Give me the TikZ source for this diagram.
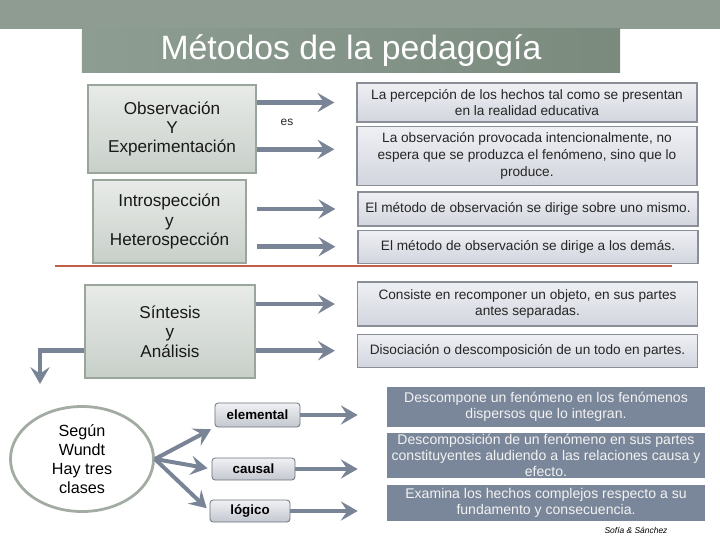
\documentclass[tikz,border=0pt]{standalone}
\usepackage{fontspec}
\setmainfont{Liberation Sans}
\usepackage{xcolor}
\usetikzlibrary{positioning, arrows.meta, shapes.geometric}
\definecolor{band}{HTML}{8F9C92}
\definecolor{titlelight}{HTML}{8E9D92}
\definecolor{titledark}{HTML}{7A8B7E}
\definecolor{leftborder}{HTML}{9AA69B}
\definecolor{leftlight}{HTML}{E8EBE8}
\definecolor{leftdark}{HTML}{C8CFC9}
\definecolor{rightborder}{HTML}{8A8E96}
\definecolor{rightlight}{HTML}{EEF0F4}
\definecolor{rightdark}{HTML}{D2D5DD}
\definecolor{arrowgray}{HTML}{7A8497}
\definecolor{sepred}{HTML}{C0604A}
\definecolor{ellipseborder}{HTML}{A3ACA3}
\definecolor{smallborder}{HTML}{6D727C}
\definecolor{smalllight}{HTML}{F0F1F4}
\definecolor{smalldark}{HTML}{C3C7CF}
\definecolor{slate}{HTML}{7A879A}
\tikzset{flecha/.style={-{Stealth[length=0.42cm, width=0.48cm, inset=0.16cm]}, draw=arrowgray, line width=0.12cm, shorten >=0.55cm},
	titlebox/.style={rectangle, left color=titlelight, right color=titledark, text=white, minimum width=13.45cm, minimum height=1.075cm, font=\fontsize{24}{28}\selectfont},
	leftbox/.style={rectangle, draw=leftborder, line width=0.07cm, top color=leftlight, bottom color=leftdark, align=center, text=black!90, font=\fontsize{12.2}{13.8}\selectfont},
	rightbox/.style={rectangle, draw=rightborder, line width=0.03cm, top color=rightlight, bottom color=rightdark, align=center, minimum width=8.5cm, inner xsep=1pt, text=black!85, font=\fontsize{9.7}{12}\selectfont},
	ellipsebox/.style={ellipse, draw=ellipseborder, line width=0.07cm, fill=white, minimum width=3.575cm, minimum height=2.625cm, align=center, inner sep=0pt, font=\fontsize{11.5}{13.5}\selectfont},
	smallbox/.style={rectangle, rounded corners=0.08cm, draw=smallborder, line width=0.02cm, top color=smalllight, bottom color=smalldark, font=\bfseries\fontsize{9.5}{11}\selectfont},
	darkbox/.style={rectangle, fill=slate, text=white!95!black, minimum width=7.95cm, align=center, inner sep=1pt, font=\fontsize{10}{11.5}\selectfont},
	separator/.style={draw=sepred, line width=0.07cm},
	eslabel/.style={text=black!85, font=\fontsize{8.5}{10}\selectfont},
	credit/.style={font=\itshape\fontsize{6}{7}\selectfont}}

\begin{document}
\begin{tikzpicture}[x=0.025cm, y=-0.025cm]
	\useasboundingbox (0,0) rectangle (720,540);
	\fill[band] (0,0) rectangle (720,29);
	\node[titlebox] (Title) at (351,50.5) {Métodos de la pedagogía};
	\node[leftbox, minimum width=4.2cm, minimum height=2.2cm] (Observacion) at (172,129) {Observación\\Y\\Experimentación};
	\node[leftbox, minimum width=3.825cm, minimum height=2.075cm] (Introspeccion) at (169.5,221.5) {Introspección\\y\\Heterospección};
	\node[leftbox, minimum width=4.25cm, minimum height=2.325cm] (Sintesis) at (170,331.5) {Síntesis\\y\\Análisis};
	\node[rightbox, minimum height=0.975cm] (Percepcion) at (527,102.5) {La percepción de los hechos tal como se presentan\\en la realidad educativa};
	\node[rightbox, minimum height=1.475cm, below=0.075cm of Percepcion] (Provocada) {La observación provocada intencionalmente, no\\espera que se produzca el fenómeno, sino que lo\\produce.};
	\node[rightbox, minimum height=0.85cm] (Mismo) at (528,209) {El método de observación se dirige sobre uno mismo.};
	\node[rightbox, minimum height=0.825cm, below=0.075cm of Mismo] (Demas) {El método de observación se dirige a los demás.};
	\node[rightbox, minimum height=1.1cm] (Recomponer) at (527.5,304) {Consiste en recomponer un objeto, en sus partes\\antes separadas.};
	\node[rightbox, minimum height=0.825cm, below=0.175cm of Recomponer] (Disociacion) {Disociación o descomposición de un todo en partes.};
	\node[ellipsebox] (Wundt) at (82,459) {Según\\Wundt\\Hay tres\\clases};
	\node[smallbox, minimum width=2.125cm, minimum height=0.6cm] (Elemental) at (257.5,415) {elemental};
	\node[smallbox, minimum width=2.075cm, minimum height=0.55cm] (Causal) at (253.5,469) {causal};
	\node[smallbox, minimum width=2cm, minimum height=0.55cm] (Logico) at (250,511) {lógico};
	\node[darkbox, minimum height=1cm] (Descompone) at (546,407) {Descompone un fenómeno en los fenómenos\\dispersos que lo integran.};
	\node[darkbox, minimum height=1.125cm, below=0.125cm of Descompone] (Constituyentes) {Descomposición de un fenómeno en sus partes\\constituyentes aludiendo a las relaciones causa y\\efecto.};
	\node[darkbox, minimum height=0.9cm, below=0.15cm of Constituyentes] (Examina) {Examina los hechos complejos respecto a su\\fundamento y consecuencia.};
	\node[eslabel] (Es) at (287,122) {es};
	\node[credit] (Autores) at (636,530) {Sofía \& Sánchez};
	\coordinate (Abajo) at (40,384);
	\draw[separator] (55,266) -- (672,266);
	\draw[flecha] (Observacion.east |- Percepcion.west) -- (Percepcion.west);
	\draw[flecha] ([yshift=0.16cm]Observacion.east |- Provocada.west) -- ([yshift=0.16cm]Provocada.west);
	\draw[flecha, shorten <=0.25cm] (Introspeccion.east |- Mismo.west) -- (Mismo.west);
	\draw[flecha, shorten <=0.25cm] (Introspeccion.east |- Demas.west) -- (Demas.west);
	\draw[flecha] (Sintesis.east |- Recomponer.west) -- (Recomponer.west);
	\draw[flecha] (Sintesis.east |- Disociacion.west) -- (Disociacion.west);
	\draw[flecha, shorten >=0pt] (Sintesis.west |- Disociacion.west) -| (Abajo);
	\draw[flecha, line width=0.1cm, shorten >=0.1cm] (Wundt.east) -- (Elemental.south west);
	\draw[flecha, line width=0.1cm, shorten >=0.1cm] (Wundt.east) -- (Causal.west);
	\draw[flecha, line width=0.1cm, shorten >=0.1cm] (Wundt.east) -- (Logico.west);
	\draw[flecha, shorten >=0.725cm] (Elemental.east) -- (Elemental.east -| Descompone.west);
	\draw[flecha, shorten >=0.725cm] (Causal.east) -- (Causal.east -| Constituyentes.west);
	\draw[flecha, shorten >=0.725cm] (Logico.east) -- (Logico.east -| Examina.west);
\end{tikzpicture}
\end{document}
